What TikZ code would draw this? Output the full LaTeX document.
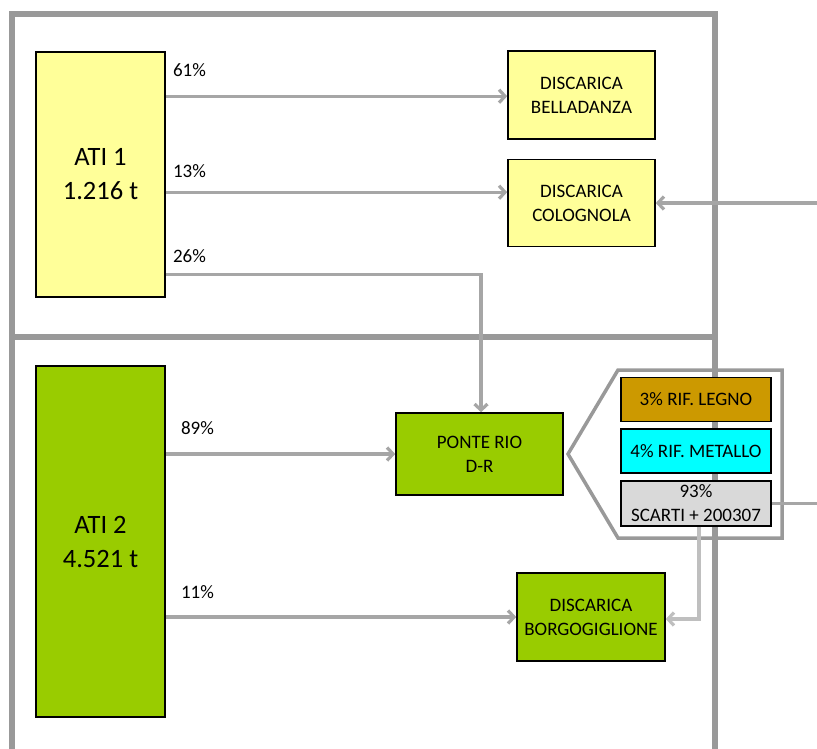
\documentclass[tikz,border=0pt]{standalone}
\usepackage{fontspec}
\setmainfont{Carlito}
\usetikzlibrary{arrows.meta,positioning,backgrounds}
\definecolor{frameGray}{HTML}{999999}
\definecolor{flowGray}{HTML}{A6A6A6}
\definecolor{paleYellow}{HTML}{FFFF99}
\definecolor{leafGreen}{HTML}{99CC00}
\definecolor{woodBrown}{HTML}{CC9900}
\definecolor{metalCyan}{HTML}{00FFFF}
\definecolor{scrapGray}{HTML}{D9D9D9}
\tikzset{myframe/.style={frameGray,line width=6pt}}
\tikzset{myflow/.style={flowGray,line width=3.2pt,-{Straight Barb[length=6pt,width=13pt]}}}
\tikzset{mybox/.style={draw=black,line width=1.6pt,inner sep=0pt,align=center,font=\fontsize{19}{24}\selectfont}}
\tikzset{mybig/.style={font=\fontsize{26.5}{34}\selectfont}}
\tikzset{mypct/.style={inner sep=0pt,anchor=base west,font=\fontsize{19}{24}\selectfont}}

\begin{document}
\begin{tikzpicture}[x=1pt,y=-1pt]
	\useasboundingbox (0,0) rectangle (817,748);
	\clip (0,0) rectangle (817,748);

	% sources
	\node[mybox,mybig,fill=paleYellow,minimum width=129pt,minimum height=245pt] (ati1) at (100.5,174.5) {ATI 1\\1.216 t};
	\node[mybox,mybig,fill=leafGreen,minimum width=129pt,minimum height=351pt] (ati2) at (100.5,541.5) {ATI 2\\4.521 t};

	% destinations
	\node[mybox,fill=paleYellow,minimum width=147pt,minimum height=88pt] (bella) at (581.5,95) {DISCARICA\\BELLADANZA};
	\node[mybox,fill=paleYellow,minimum width=147pt,minimum height=87pt,below=19pt of bella] (colo) {DISCARICA\\COLOGNOLA};
	\node[mybox,fill=leafGreen,minimum width=167pt,minimum height=82pt] (ponte) at (479.5,454) {PONTE RIO\\D-R};
	\node[mybox,fill=leafGreen,minimum width=148pt,minimum height=88pt] (borgo) at (591,617) {DISCARICA\\BORGOGIGLIONE};

	% ponte rio split
	\node[mybox,fill=woodBrown,minimum width=150pt,minimum height=44pt] (legno) at (696,399.5) {3\% RIF. LEGNO};
	\node[mybox,fill=metalCyan,minimum width=150pt,minimum height=44pt,below=6pt of legno] (metallo) {4\% RIF. METALLO};
	\node[mybox,fill=scrapGray,minimum width=150pt,minimum height=45pt,below=6pt of metallo] (scarti) {93\%\\SCARTI + 200307};

	\begin{scope}[on background layer]
		\draw[myframe] (12,760) -- (12,14) -- (714.5,14) -- (714.5,760);
		\draw[myframe] (12,337) -- (714.5,337);
		\draw[frameGray,line width=3.5pt] (618,370) -- (782,370) -- (782,538) -- (618,538) -- (568,454) -- cycle;
	\end{scope}

	\coordinate (o61) at ([yshift=-45pt]ati1.north east);
	\coordinate (o13) at ([yshift=-141pt]ati1.north east);
	\coordinate (o26) at ([yshift=23pt]ati1.south east);
	\coordinate (o89) at (ati2.east |- ponte.west);
	\coordinate (o11) at (ati2.east |- borgo.west);
	\coordinate (inR) at (817,203);
	\coordinate (outR) at (817,503);

	\draw[myflow] (o61) -- (o61 -| bella.west);
	\draw[myflow] (o13) -- (o13 -| colo.west);
	\draw[myflow] (o26) -| ([xshift=1.5pt]ponte.north);
	\draw[myflow] (inR) -- (inR -| colo.east);
	\draw[myflow] (o89) -- (ponte.west);
	\draw[myflow] (o11) -- (borgo.west);
	\draw[flowGray,line width=2.6pt] (scarti.east) -- (scarti.east -| outR);
	\draw[myflow,black!25] ([xshift=3pt]scarti.south) |- ([yshift=-2pt]borgo.east);

	\node[mypct] (p61) at ([xshift=7pt,yshift=20pt]o61) {61\%};
	\node[mypct] (p13) at ([xshift=7pt,yshift=15pt]o13) {13\%};
	\node[mypct] (p26) at ([xshift=7pt,yshift=12pt]o26) {26\%};
	\node[mypct] (p89) at ([xshift=15pt,yshift=20pt]o89) {89\%};
	\node[mypct] (p11) at ([xshift=15pt,yshift=19pt]o11) {11\%};

\end{tikzpicture}
\end{document}
